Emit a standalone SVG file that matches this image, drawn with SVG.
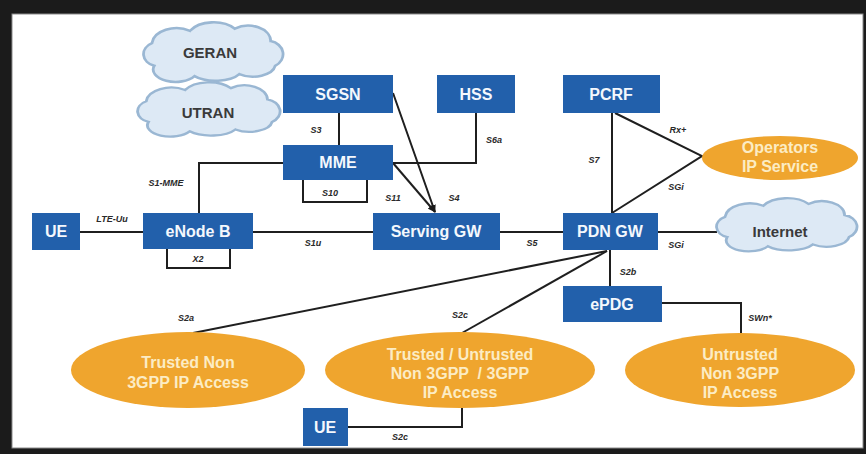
<svg xmlns="http://www.w3.org/2000/svg" width="866" height="454" viewBox="0 0 866 454">
<defs>
<path id="cloud" d="M 20,44 A 14,12 0 0 1 18,22 A 22,16 0 0 1 52,10 A 24,16 0 0 1 92,8 A 20,15 0 0 1 124,20 A 14,13 0 0 1 128,44 A 20,12 0 0 1 96,52 A 24,12 0 0 1 56,54 A 20,12 0 0 1 20,44 Z"/>
<marker id="arr" viewBox="0 0 10 10" refX="9" refY="5" markerWidth="8" markerHeight="8" markerUnits="userSpaceOnUse" orient="auto">
<path d="M0,1 L10,5 L0,9 Z" fill="#1a1a1a"/>
</marker>
</defs>
<style>
.box{fill:#2260ab}
.bt{font-family:"Liberation Sans",Arial,sans-serif;font-weight:bold;font-size:16px;fill:#f4f8fd;text-anchor:middle}
.ell{fill:#efa52e}
.et{font-family:"Liberation Sans",Arial,sans-serif;font-weight:bold;font-size:16px;fill:#fcecc4;text-anchor:middle;white-space:pre}
.cl{fill:#dde9f5;stroke:#9ab7d3;stroke-width:2.5}
.ct{font-family:"Liberation Sans",Arial,sans-serif;font-weight:bold;font-size:15px;fill:#3a3a3a;text-anchor:middle}
.ln{fill:none;stroke:#1f1f1f;stroke-width:2}
.lb{font-family:"Liberation Sans",Arial,sans-serif;font-weight:bold;font-style:italic;font-size:9px;fill:#2a2a2a;text-anchor:middle}
</style>
<rect x="0" y="0" width="866" height="454" fill="#1b1b1b"/>
<rect x="12" y="14" width="851" height="434" fill="#ffffff" stroke="#8a8a8a" stroke-width="1"/>

<g id="connectors">
<polyline class="ln" points="80,232 143,232"/>
<polyline class="ln" points="253,232 373,232"/>
<polyline class="ln" points="500,232 563,232"/>
<polyline class="ln" points="658,232 717,232"/>
<polyline class="ln" points="199,213 199,163 283,163"/>
<polyline class="ln" points="167,249 167,268 230,268 230,249"/>
<polyline class="ln" points="339,113 339,145"/>
<polyline class="ln" points="303,180 303,202 367,202 367,180"/>
<polyline class="ln" points="476,113 476,163 393,163"/>
<line class="ln" x1="393" y1="93" x2="435" y2="212" marker-end="url(#arr)"/>
<line class="ln" x1="393" y1="163" x2="435" y2="212" marker-end="url(#arr)"/>
<polyline class="ln" points="612,113 612,213"/>
<polyline class="ln" points="615,113 702,156 612,213"/>
<polyline class="ln" points="610,250 610,286"/>
<polyline class="ln" points="662,303 741,303 741,333"/>
<line class="ln" x1="607" y1="251" x2="193" y2="333"/>
<line class="ln" x1="607" y1="251" x2="462" y2="333"/>
<polyline class="ln" points="348,427 462,427 462,408"/>
<text class="lb" x="112" y="222">LTE-Uu</text>
<text class="lb" x="166" y="186">S1-MME</text>
<text class="lb" x="198" y="262">X2</text>
<text class="lb" x="316" y="133">S3</text>
<text class="lb" x="330" y="196">S10</text>
<text class="lb" x="494" y="143">S6a</text>
<text class="lb" x="393" y="201">S11</text>
<text class="lb" x="454" y="201">S4</text>
<text class="lb" x="313" y="246">S1u</text>
<text class="lb" x="532" y="246">S5</text>
<text class="lb" x="594" y="163">S7</text>
<text class="lb" x="678" y="133">Rx+</text>
<text class="lb" x="676" y="190">SGi</text>
<text class="lb" x="676" y="248">SGi</text>
<text class="lb" x="628" y="275">S2b</text>
<text class="lb" x="760" y="321">SWn*</text>
<text class="lb" x="186" y="321">S2a</text>
<text class="lb" x="460" y="318">S2c</text>
<text class="lb" x="400" y="440">S2c</text>
</g>

<g id="geran">
<use href="#cloud" class="cl" transform="translate(131.8,20.5) scale(1.12,1.03)"/>
<text class="ct" x="210" y="58">GERAN</text>
</g>
<g id="utran">
<use href="#cloud" class="cl" transform="translate(125.6,80.6) scale(1.144,0.94)"/>
<text class="ct" x="208" y="118">UTRAN</text>
</g>
<g id="internet">
<use href="#cloud" class="cl" transform="translate(704.7,196.6) scale(1.128,0.92)"/>
<text class="ct" x="780" y="237">Internet</text>
</g>

<g id="sgsn"><rect class="box" x="283" y="75" width="110" height="38"/><text class="bt" x="338" y="100">SGSN</text></g>
<g id="hss"><rect class="box" x="437" y="75" width="78" height="38"/><text class="bt" x="476" y="100">HSS</text></g>
<g id="pcrf"><rect class="box" x="563" y="75" width="97" height="38"/><text class="bt" x="611" y="100">PCRF</text></g>
<g id="mme"><rect class="box" x="283" y="145" width="110" height="35"/><text class="bt" x="338" y="168">MME</text></g>
<g id="ue1"><rect class="box" x="32" y="213" width="48" height="37"/><text class="bt" x="56" y="237">UE</text></g>
<g id="enodeb"><rect class="box" x="143" y="213" width="110" height="36"/><text class="bt" x="198" y="237">eNode B</text></g>
<g id="sgw"><rect class="box" x="373" y="213" width="127" height="37"/><text class="bt" x="436" y="237">Serving GW</text></g>
<g id="pdngw"><rect class="box" x="563" y="213" width="95" height="37"/><text class="bt" x="610" y="237">PDN GW</text></g>
<g id="epdg"><rect class="box" x="563" y="286" width="99" height="36"/><text class="bt" x="612" y="310">ePDG</text></g>
<g id="ue2"><rect class="box" x="303" y="408" width="45" height="38"/><text class="bt" x="325" y="433">UE</text></g>

<g id="operators"><ellipse class="ell" cx="780" cy="158" rx="78" ry="22"/><text class="et" x="780" y="153">Operators</text><text class="et" x="780" y="172">IP Service</text></g>
<g id="trusted"><ellipse class="ell" cx="188" cy="370" rx="117" ry="38"/><text class="et" x="188" y="368">Trusted Non</text><text class="et" x="188" y="388">3GPP IP Access</text></g>
<g id="mixed"><ellipse class="ell" cx="460" cy="370" rx="135" ry="38"/><text class="et" x="460" y="360">Trusted / Untrusted</text><text class="et" x="460" y="379">Non 3GPP  / 3GPP</text><text class="et" x="460" y="398">IP Access</text></g>
<g id="untrusted"><ellipse class="ell" cx="740" cy="370" rx="115" ry="37"/><text class="et" x="740" y="360">Untrusted</text><text class="et" x="740" y="379">Non 3GPP</text><text class="et" x="740" y="398">IP Access</text></g>
</svg>
